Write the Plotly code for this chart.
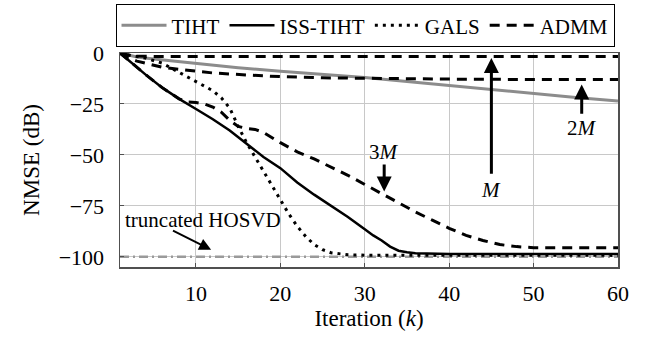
import plotly.graph_objects as go

# ---- data ----
tiht_x = [1, 3, 5, 10, 15, 20, 25, 30, 35, 40, 45, 50, 55, 60]
tiht_y = [0, -2.0, -3.0, -5.2, -7.2, -9.0, -10.6, -12.0, -14.0, -16.0, -18.0, -20.0, -21.8, -23.5]

iss_x = [1, 2, 4, 6, 8, 10, 12, 14, 16, 18, 20, 22, 24, 26, 28, 30, 31, 32, 33, 34, 35, 36, 38, 40, 50, 60]
iss_y = [0, -3.5, -10.5, -17, -22.5, -27.5, -32.5, -38, -44.5, -51, -56.5, -63.5, -69.5, -75, -80.5, -86.5, -89.5, -92, -95, -97, -97.8, -98.2, -98.5, -98.6, -98.6, -98.6]

gals_x = [1, 2, 4, 6, 8, 10, 12, 13, 14, 15, 16, 17, 18, 19, 20, 21, 22, 23, 24, 25, 26, 28, 30, 40, 50, 60]
gals_y = [0, -1.0, -2.5, -5, -9.5, -14, -18.5, -22, -27, -36, -44, -51, -58, -65, -72, -79, -85, -90, -94, -96.5, -98, -99, -99.2, -99.3, -99.3, -99.3]

admm_m_x = [1, 2, 3, 5, 10, 20, 30, 40, 50, 60]
admm_m_y = [0, -1.0, -1.5, -1.7, -1.7, -1.7, -1.7, -1.7, -1.7, -1.7]

admm_2m_x = [1, 2, 3, 4, 6, 8, 10, 12, 16, 20, 25, 30, 40, 50, 60]
admm_2m_y = [0, -2.5, -4, -5, -7, -8, -9, -9.8, -10.8, -11.6, -12.2, -12.5, -12.8, -13, -13]

admm_3m_x = [1, 2, 4, 6, 8, 9, 10, 11, 12, 13, 14, 15, 16, 17, 18, 20, 22, 24, 26, 28, 30, 32, 34, 36, 38, 40, 42, 44, 46, 48, 50, 55, 60]
admm_3m_y = [0, -3.5, -10.5, -17, -22.5, -24, -24.3, -25, -26.5, -29, -33, -36, -37, -37.5, -39, -44, -48.5, -52, -56, -60, -64.5, -69, -73.5, -78, -82, -86, -89.5, -92, -94, -95, -95.5, -95.5, -95.5]

hosvd_x = [1, 60]
hosvd_y = [-100, -100]

x_ticks = [10, 20, 30, 40, 50, 60]
y_ticks = [0, -25, -50, -75, -100]
y_tick_text = ["0", "\u221225", "\u221250", "\u221275", "\u2212100"]

FONT = "Liberation Serif"

fig = go.Figure()
fig.add_trace(go.Scatter(x=hosvd_x, y=hosvd_y, mode="lines", showlegend=False,
                         line=dict(color="#9a9a9a", width=2.5, dash="9px,4px,2px,4px")))
fig.add_trace(go.Scatter(x=tiht_x, y=tiht_y, mode="lines", name="TIHT",
                         line=dict(color="#8c8c8c", width=3)))
fig.add_trace(go.Scatter(x=iss_x, y=iss_y, mode="lines", name="ISS-TIHT",
                         line=dict(color="black", width=2.5)))
fig.add_trace(go.Scatter(x=gals_x, y=gals_y, mode="lines", name="GALS",
                         line=dict(color="black", width=3, dash="3px,5px")))
fig.add_trace(go.Scatter(x=admm_m_x, y=admm_m_y, mode="lines", name="ADMM",
                         line=dict(color="black", width=3, dash="10px,7px")))
fig.add_trace(go.Scatter(x=admm_2m_x, y=admm_2m_y, mode="lines", showlegend=False,
                         line=dict(color="black", width=3, dash="10px,7px")))
fig.add_trace(go.Scatter(x=admm_3m_x, y=admm_3m_y, mode="lines", showlegend=False,
                         line=dict(color="black", width=3, dash="10px,7px")))

def arrow(x, y, ax, ay, w=3, size=1.0):
    fig.add_annotation(x=x, y=y, ax=ax, ay=ay, xref="x", yref="y", axref="x", ayref="y",
                       text="", showarrow=True, arrowhead=2, arrowwidth=w, arrowsize=size,
                       arrowcolor="black")

def label(x, y, t):
    fig.add_annotation(x=x, y=y, xref="x", yref="y", text=t, showarrow=False,
                       font=dict(family=FONT, size=21, color="black"))

arrow(45, -2.5, 45, -60)
label(45, -67, "<i>M</i>")
arrow(55.7, -15.5, 55.7, -30.5)
label(55.7, -37, "2<i>M</i>")
arrow(32.3, -68, 32.3, -54)
label(32.3, -48.5, "3<i>M</i>")
arrow(11.8, -96.5, 7.1, -86.8, w=2, size=1.2)
label(10.8, -82, "truncated HOSVD")

axis_common = dict(showgrid=True, gridcolor="#c8c8c8", gridwidth=1, showline=True,
                   linecolor="#505050", linewidth=1.5, mirror=True, ticks="inside",
                   ticklen=4, tickcolor="#505050", zeroline=False,
                   tickfont=dict(family=FONT, size=22, color="black"))

fig.update_xaxes(range=[1, 60], tickvals=x_ticks, ticktext=[str(v) for v in x_ticks],
                 ticklabelstandoff=6,
                 title=dict(text="Iteration (<i>k</i>)", font=dict(family=FONT, size=23, color="black"),
                            standoff=2),
                 **axis_common)
fig.update_yaxes(range=[-105, 0], tickvals=y_ticks, ticktext=y_tick_text,
                 ticklabelstandoff=10,
                 title=dict(text="NMSE (dB)", font=dict(family=FONT, size=23, color="black"),
                            standoff=12),
                 **axis_common)

fig.update_layout(
    width=650, height=342,
    margin=dict(l=120, r=32, t=53, b=75, autoexpand=False),
    paper_bgcolor="white", plot_bgcolor="white",
    font=dict(family=FONT, color="black"),
    hovermode=False,
    legend=dict(orientation="h", x=0.492, y=1.228, xanchor="center", yanchor="top",
                bordercolor="black", borderwidth=1, bgcolor="white",
                font=dict(family=FONT, size=21, color="black"),
                itemwidth=45, tracegroupgap=0),
)

fig.write_html("out.html", config={"displayModeBar": False, "staticPlot": True},
               post_script="document.body.style.margin='0';document.body.style.overflow='hidden';")
